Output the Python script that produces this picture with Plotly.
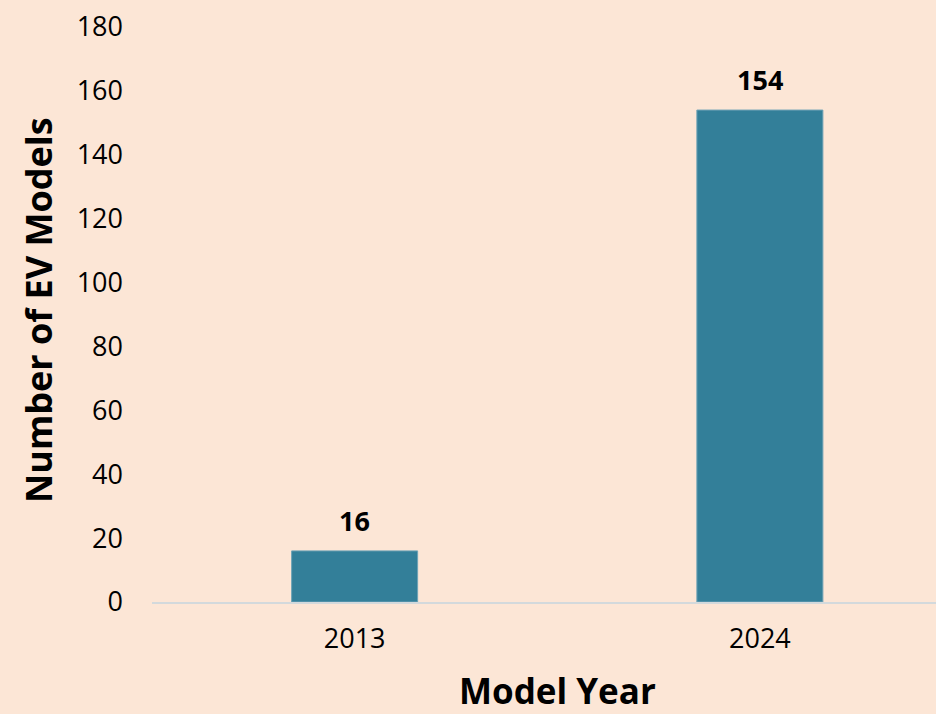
import plotly.graph_objects as go

years = ["2013", "2024"]
models = [16, 154]
y_ticks = [0, 20, 40, 60, 80, 100, 120, 140, 160, 180]

BG = "#FCE6D6"
BAR = "#337F99"
FONT = "Open Sans"

fig = go.Figure()
fig.add_trace(go.Bar(
    x=years, y=models, width=0.311,
    marker=dict(color=BAR, line=dict(color="#6FA3B6", width=1)),
    hoverinfo="skip",
))

for i, v in enumerate(models):
    fig.add_annotation(x=i, y=v, text=f"<b>{v}</b>", showarrow=False,
                       yanchor="bottom", yshift=10,
                       font=dict(family=FONT, size=27, color="black"))

fig.add_annotation(xref="paper", yref="paper", x=(557 - 152) / 784, y=0,
                   yshift=-114, text="<b>Model Year</b>", showarrow=False,
                   xanchor="center", yanchor="bottom",
                   font=dict(family=FONT, size=35, color="black"))
fig.add_annotation(xref="paper", yref="paper", x=0, xshift=-114, y=(602 - 310) / 575,
                   text="<b>Number of EV Models</b>", showarrow=False, textangle=-90,
                   xanchor="center", yanchor="middle",
                   font=dict(family=FONT, size=36, color="black"))

fig.update_layout(
    width=936, height=714,
    paper_bgcolor=BG, plot_bgcolor=BG,
    margin=dict(l=152, r=0, t=27, b=112),
    showlegend=False,
    font=dict(family=FONT, size=28, color="black"),
)
fig.update_xaxes(
    type="category", range=[-0.5, 1.4346],
    showline=True, linecolor="#D3D9DC", linewidth=2,
    showgrid=False, ticks="", ticklabelstandoff=12,
    tickfont=dict(family=FONT, size=27, color="black"),
)
fig.update_yaxes(
    range=[0, 180], tickvals=y_ticks, showgrid=False, zeroline=False,
    showline=False, ticks="", ticklabelstandoff=28,
    tickfont=dict(family=FONT, size=27, color="black"),
)

fig.write_html("out.html", config={"displayModeBar": False},
               post_script="document.body.style.margin='0';")
